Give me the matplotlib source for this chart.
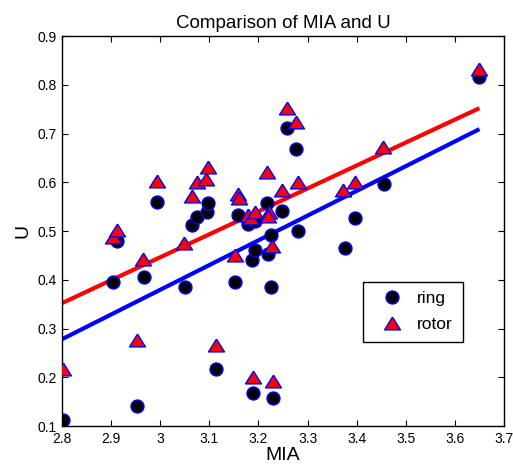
import matplotlib
matplotlib.use("Agg")
import matplotlib.pyplot as plt
import numpy as np

plt.rcParams['font.family'] = ['Liberation Sans', 'DejaVu Sans']

ring_x = [2.803, 2.904, 2.911, 2.953, 2.966, 2.994, 3.050, 3.064, 3.075, 3.095,
          3.098, 3.113, 3.152, 3.159, 3.179, 3.186, 3.188, 3.193, 3.192, 3.217,
          3.220, 3.225, 3.225, 3.230, 3.248, 3.258, 3.277, 3.280, 3.376, 3.397,
          3.456, 3.649]
ring_y = [0.112, 0.396, 0.480, 0.141, 0.406, 0.559, 0.386, 0.513, 0.528, 0.540,
          0.558, 0.216, 0.396, 0.532, 0.515, 0.440, 0.167, 0.461, 0.520, 0.557,
          0.452, 0.491, 0.385, 0.157, 0.541, 0.711, 0.669, 0.501, 0.465, 0.526,
          0.596, 0.815]

rotor_x = [2.803, 2.904, 2.911, 2.952, 2.964, 2.993, 3.048, 3.064, 3.075, 3.093,
           3.098, 3.113, 3.152, 3.159, 3.161, 3.179, 3.184, 3.188, 3.193, 3.217,
           3.221, 3.220, 3.227, 3.230, 3.248, 3.258, 3.277, 3.280, 3.373, 3.397,
           3.454, 3.649]
rotor_y = [0.216, 0.488, 0.502, 0.276, 0.442, 0.603, 0.476, 0.571, 0.600, 0.606,
           0.632, 0.266, 0.450, 0.576, 0.568, 0.533, 0.527, 0.201, 0.540, 0.622,
           0.538, 0.530, 0.469, 0.193, 0.585, 0.752, 0.724, 0.600, 0.584, 0.601,
           0.673, 0.832]

fit_x = [2.8, 3.65]
ring_fit_y = [0.278, 0.709]
rotor_fit_y = [0.352, 0.752]

xticks = [2.8, 2.9, 3.0, 3.1, 3.2, 3.3, 3.4, 3.5, 3.6, 3.7]
xtick_labels = ['2.8', '2.9', '3', '3.1', '3.2', '3.3', '3.4', '3.5', '3.6', '3.7']
yticks = [0.1, 0.2, 0.3, 0.4, 0.5, 0.6, 0.7, 0.8, 0.9]
ytick_labels = ['0.1', '0.2', '0.3', '0.4', '0.5', '0.6', '0.7', '0.8', '0.9']

fig = plt.figure(figsize=(5.13, 4.76), dpi=100)
ax = fig.add_axes([62/513, 1-426/476, 442/513, 390/476])

tri_verts = [(0, 0.8), (-1, -0.8), (1, -0.8), (0, 0.8)]

ax.plot(fit_x, rotor_fit_y, color='#ff0000', lw=3.0, zorder=1, solid_capstyle='butt')
ax.plot(fit_x, ring_fit_y, color='#0000ff', lw=3.0, zorder=1, solid_capstyle='butt')
ax.plot(ring_x, ring_y, ls='none', marker='o', ms=9.3, mfc='black', mec='#0000ff',
        mew=1.0, label='ring', zorder=2)
ax.plot(rotor_x, rotor_y, ls='none', marker=tri_verts, ms=11.5, mfc='#ff0000',
        mec='#0000ff', mew=1.0, label='rotor', zorder=3)

ax.set_xlim(2.8, 3.7)
ax.set_ylim(0.1, 0.9)
ax.set_xticks(xticks)
ax.set_xticklabels(xtick_labels)
ax.set_yticks(yticks)
ax.set_yticklabels(ytick_labels)
ax.tick_params(direction='in', top=True, right=True, length=4, width=0.8,
               labelsize=10, colors='black', pad=4)
for s in ax.spines.values():
    s.set_linewidth(1.0)

ax.set_title('Comparison of MIA and U', fontsize=13.5, pad=6)
ax.set_xlabel('MIA', fontsize=14, labelpad=1)
ax.set_ylabel('U', fontsize=14, labelpad=4)

leg = ax.legend(loc='upper left', bbox_to_anchor=(0.680, 0.370), borderaxespad=0,
                fancybox=False, edgecolor='black', fontsize=12.5, handletextpad=0.3,
                borderpad=0.55, labelspacing=0.6, handlelength=2.3, framealpha=1)
leg.get_frame().set_linewidth(1.0)

fig.savefig('out.png', dpi=100)
